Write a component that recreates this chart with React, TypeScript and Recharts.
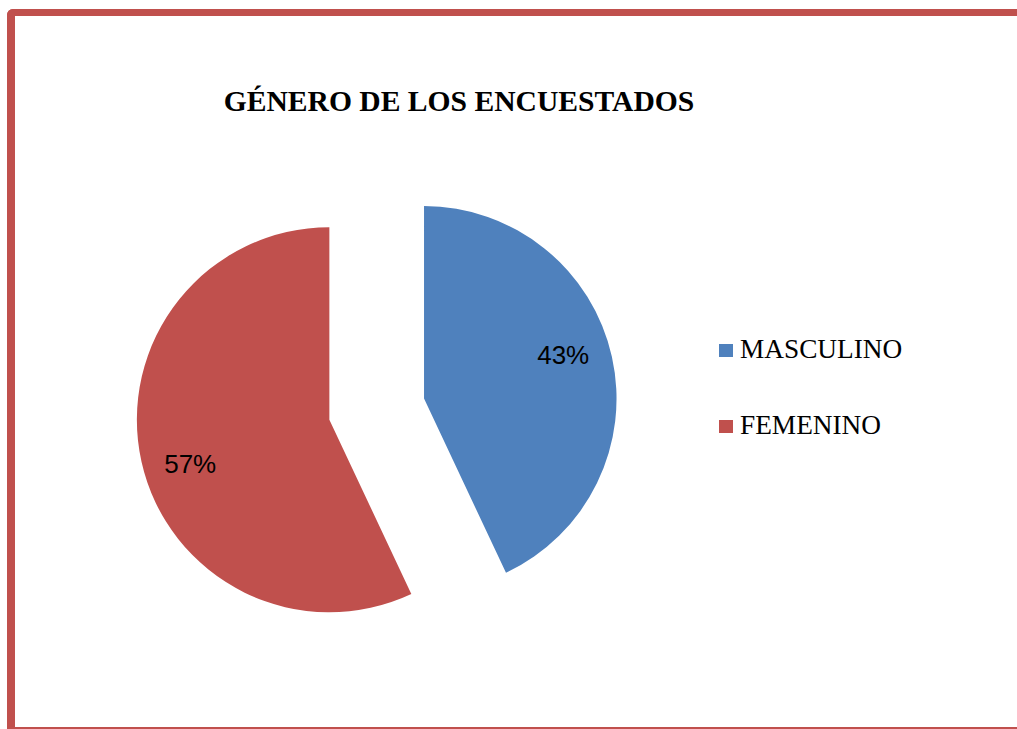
import React from "react";
import { PieChart, Pie, Cell, Legend } from "recharts";

const categories = ["MASCULINO", "FEMENINO"];
const values = [43, 57];
const colors = ["#4F81BD", "#C0504D"];

const TITLE = "GÉNERO DE LOS ENCUESTADOS";

const W = 1017;
const H = 729;
const BASE_X = 376.7;
const BASE_Y = 409.2;
const RADIUS = 192.5;
const EXPLODE = 48.5;
const RAD = Math.PI / 180;

const total = values.reduce((a, b) => a + b, 0);
const data = categories.map((name, i) => ({ name, value: values[i] }));

// mid angle of each slice (degrees, counter-clockwise from 3 o'clock), slices go clockwise from 12
let acc = 0;
const midAngles = values.map((v) => {
  const mid = 90 - ((acc + v / 2) / total) * 360;
  acc += v;
  return mid;
});

const renderLegend = () => (
  <div style={{ fontFamily: "'Liberation Serif', 'Times New Roman', serif", fontSize: 27.3, color: "#000" }}>
    {categories.map((name, i) => (
      <div
        key={name}
        style={{ display: "flex", alignItems: "flex-start", height: 27, lineHeight: "27px", marginBottom: i === 0 ? 49 : 0 }}
      >
        <span style={{ width: 13.5, height: 13.5, background: colors[i], marginTop: 7.4, marginRight: 7.5, flex: "none" }} />
        <span>{name}</span>
      </div>
    ))}
  </div>
);

const makeLabel = (slice: number) => (props: any) => {
  if (props.index !== slice) return null;
  const angle = (props.midAngle + 5) * RAD;
  const r = 146;
  const x = props.cx + r * Math.cos(angle);
  const y = props.cy - r * Math.sin(angle);
  return (
    <text
      x={x}
      y={y + 9.3}
      textAnchor="middle"
      fill="#000"
      fontSize={26}
      fontFamily="'Liberation Sans', Arial, sans-serif"
    >
      {`${Math.round((values[slice] / total) * 100)}%`}
    </text>
  );
};

export default function App() {
  return (
    <div style={{ position: "absolute", left: 0, top: 0, width: W, height: H, overflow: "hidden", background: "#fff" }}>
      <div
        style={{
          position: "absolute",
          left: 7,
          top: 9,
          width: W + 40,
          height: H - 9,
          boxSizing: "border-box",
          borderTop: "7.5px solid #C0504D",
          borderLeft: "8px solid #C0504D",
          borderBottom: "2px solid #C0504D",
          borderTopLeftRadius: 6,
        }}
      />
      <div
        style={{
          position: "absolute",
          left: 0,
          top: 87.2,
          width: 918,
          textAlign: "center",
          fontFamily: "'Liberation Serif', 'Times New Roman', serif",
          fontWeight: "bold",
          fontSize: 29.6,
          lineHeight: "29.6px",
          color: "#000",
          whiteSpace: "nowrap",
        }}
      >
        {TITLE}
      </div>
      <div style={{ position: "absolute", left: 0, top: 0 }}>
        <PieChart width={W} height={H} margin={{ top: 0, right: 0, bottom: 0, left: 0 }}>
          {categories.map((name, i) => (
            <Pie
              key={name}
              data={data}
              dataKey="value"
              nameKey="name"
              cx={BASE_X + EXPLODE * Math.cos(midAngles[i] * RAD)}
              cy={BASE_Y - EXPLODE * Math.sin(midAngles[i] * RAD)}
              outerRadius={RADIUS}
              startAngle={90}
              endAngle={-270}
              stroke="none"
              label={makeLabel(i)}
              labelLine={false}
              isAnimationActive={false}
            >
              {data.map((d, j) => (
                <Cell key={d.name} fill={j === i ? colors[j] : "none"} />
              ))}
            </Pie>
          ))}
          <Legend
            layout="vertical"
            align="right"
            verticalAlign="middle"
            content={renderLegend}
            wrapperStyle={{ left: 719, top: 336.4, width: 260, right: "auto", bottom: "auto" }}
          />
        </PieChart>
      </div>
    </div>
  );
}
